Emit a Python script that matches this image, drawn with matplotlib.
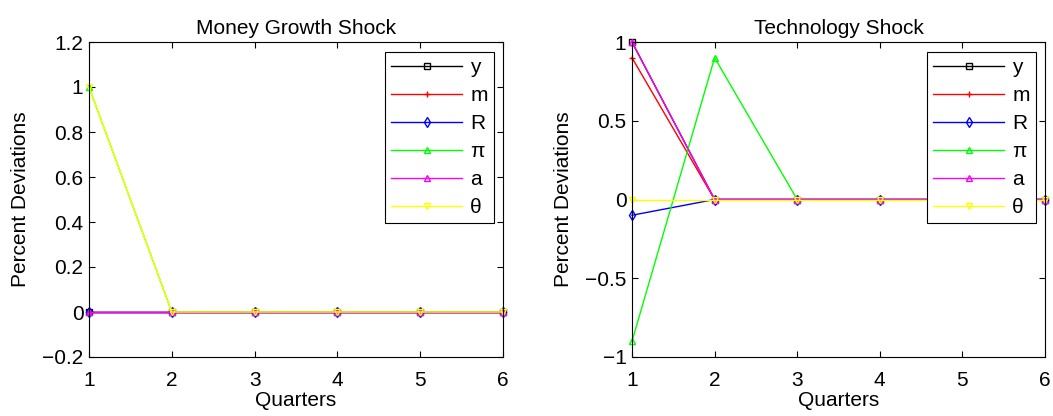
import matplotlib
matplotlib.use("Agg")
import matplotlib.pyplot as plt
import numpy as np

plt.rcParams['font.family'] = ['Liberation Sans', 'DejaVu Sans']

quarters = [1, 2, 3, 4, 5, 6]
labels = ['y', 'm', 'R', '\u03c0', 'a', '\u03b8']
colors = ['black', 'red', 'blue', '#00ff00', 'magenta', '#ffff00']
markers = ['s', '+', 'd', '^', '^', 'v']

# Money growth shock responses
money_y = [0, 0, 0, 0, 0, 0]
money_m = [0, 0, 0, 0, 0, 0]
money_R = [0, 0, 0, 0, 0, 0]
money_pi = [1, 0, 0, 0, 0, 0]
money_a = [0, 0, 0, 0, 0, 0]
money_theta = [1, 0, 0, 0, 0, 0]

# Technology shock responses
tech_y = [1, 0, 0, 0, 0, 0]
tech_m = [0.9, 0, 0, 0, 0, 0]
tech_R = [-0.1, 0, 0, 0, 0, 0]
tech_pi = [-0.9, 0.9, 0, 0, 0, 0]
tech_a = [1, 0, 0, 0, 0, 0]
tech_theta = [0, 0, 0, 0, 0, 0]

money = [money_y, money_m, money_R, money_pi, money_a, money_theta]
tech = [tech_y, tech_m, tech_R, tech_pi, tech_a, tech_theta]

fig = plt.figure(figsize=(10.53, 4.16), dpi=100)
ax1 = fig.add_axes([89/1053, 59/416, 414/1053, 315/416])
ax2 = fig.add_axes([632/1053, 59/416, 413/1053, 315/416])

FS = 15

def draw(ax, series, title, ylim, yticks, yticklabels):
    for s, lab, c, mk in zip(series, labels, colors, markers):
        ax.plot(quarters, s, color=c, marker=mk, markersize=5, mfc='none',
                mec=c, lw=1, label=lab, clip_on=False)
    ax.set_xlim(1, 6)
    ax.set_ylim(*ylim)
    ax.set_xticks(quarters)
    ax.set_yticks(yticks)
    ax.set_yticklabels(yticklabels)
    ax.tick_params(direction='in', labelsize=FS, length=4, top=True, right=True,
                   width=0.8)
    ax.tick_params(axis='x', pad=10)
    ax.tick_params(axis='y', pad=4)
    for sp in ax.spines.values():
        sp.set_linewidth(0.8)
    ax.set_title(title, fontsize=FS, pad=6)
    ax.set_xlabel('Quarters', fontsize=FS, labelpad=1)
    ax.set_ylabel('Percent Deviations', fontsize=FS, labelpad=9)
    leg = ax.legend(loc='upper right', fontsize=FS, fancybox=False, framealpha=1,
                    edgecolor='black', handlelength=3.4, borderpad=0.3,
                    labelspacing=0.43, handletextpad=0.4, borderaxespad=0,
                    bbox_to_anchor=(1 - 9/414, 1 - 10/315))
    leg.get_frame().set_linewidth(0.8)

draw(ax1, money, 'Money Growth Shock', (-0.2, 1.2),
     [-0.2, 0, 0.2, 0.4, 0.6, 0.8, 1, 1.2],
     ['\u22120.2', '0', '0.2', '0.4', '0.6', '0.8', '1', '1.2'])
draw(ax2, tech, 'Technology Shock', (-1, 1),
     [-1, -0.5, 0, 0.5, 1],
     ['\u22121', '\u22120.5', '0', '0.5', '1'])

fig.savefig('out.png', dpi=100)
